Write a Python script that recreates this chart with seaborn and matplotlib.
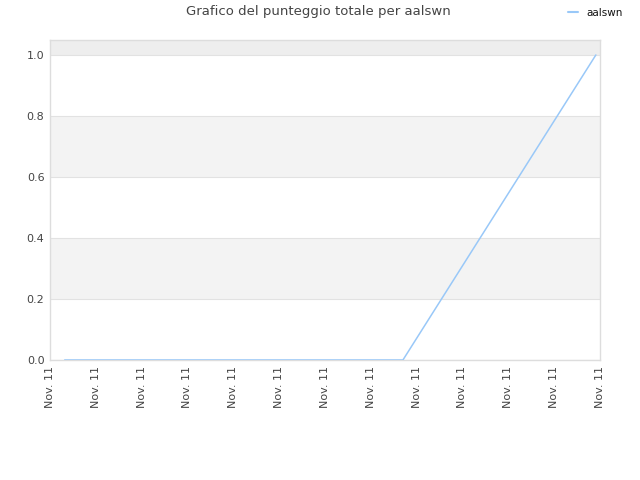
import matplotlib
matplotlib.use("Agg")
import matplotlib.pyplot as plt
import seaborn as sns
import pandas as pd
from matplotlib.lines import Line2D

# Data
series_name = "aalswn"
x_pos = [0.32, 7.70, 11.91]
scores = [0.0, 0.0, 1.0]
tick_positions = list(range(13))
tick_labels = ["Nov. 11"] * 13
y_ticks = [0.0, 0.2, 0.4, 0.6, 0.8, 1.0]

df = pd.DataFrame({"x": x_pos, "score": scores, "name": series_name})

sns.set_style("white")
plt.rcParams['font.family'] = ['DejaVu Sans']

fig = plt.figure(figsize=(6.4, 4.8), dpi=100)
ax = fig.add_axes([50/640, 1-360/480, 550/640, 320/480])

ymax = 1.049
# alternating bands
band_colors = ["#FFFFFF", "#F3F3F3", "#FFFFFF", "#F3F3F3", "#FFFFFF"]
for i, c in enumerate(band_colors):
    ax.axhspan(y_ticks[i], y_ticks[i+1], color=c, zorder=0, lw=0)
ax.axhspan(1.0, ymax, color="#EEEEEE", zorder=0, lw=0)
for y in y_ticks:
    ax.axhline(y, color="#E2E2E2", lw=0.8, zorder=1)

sns.lineplot(data=df, x="x", y="score", hue="name", palette=["#99C8F8"],
             lw=1.1, ax=ax, zorder=3, legend=False)

ax.set_xlim(0, 12)
ax.set_ylim(0, ymax)
ax.set_xticks(tick_positions)
ax.set_xticklabels(tick_labels, rotation=90, fontsize=8, color="#444444")
ax.set_yticks(y_ticks)
ax.set_yticklabels([f"{v:.1f}" for v in y_ticks], fontsize=8, color="#444444")
ax.tick_params(axis="both", length=0, pad=4)
ax.set_xlabel("")
ax.set_ylabel("")
for s in ax.spines.values():
    s.set_color("#DDDDDD")
    s.set_linewidth(1.0)

fig.text(318/640, 1-12/480, "Grafico del punteggio totale per aalswn",
         ha="center", va="center", fontsize=9.5, color="#444444")
# legend
handle = Line2D([0], [0], color="#99C8F8", lw=1.5)
leg = fig.legend([handle], [series_name], loc="center right",
                 bbox_to_anchor=(627/640, 1-13/480), frameon=False, fontsize=7.5,
                 handlelength=1.0, handletextpad=0.8, borderaxespad=0)
for t in leg.get_texts():
    t.set_color("#111111")

fig.savefig("out.png", dpi=100)
